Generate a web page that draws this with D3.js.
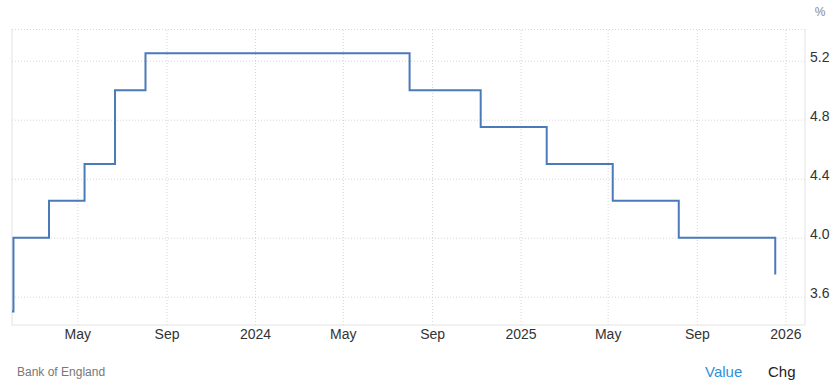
<!DOCTYPE html>
<html>
<head>
<meta charset="utf-8">
<script src="https://cdn.jsdelivr.net/npm/d3@7"></script>
<style>
  body { margin: 0; background: #fff; font-family: "Liberation Sans", Arial, sans-serif; }
  .grid line { stroke: #d6d6d6; stroke-dasharray: 1,2; }
  .grid path { display: none; }
</style>
</head>
<body>
<svg id="chart" width="836" height="386"></svg>
<script>
// Bank Rate change dates and levels (%)
const dates = ["2023-01-31", "2023-02-02", "2023-03-23", "2023-05-11", "2023-06-22", "2023-08-03",
  "2024-08-01", "2024-11-07", "2025-02-06", "2025-05-08", "2025-08-07", "2025-12-18"];
const rates = [3.5, 4.0, 4.25, 4.5, 5.0, 5.25, 5.0, 4.75, 4.5, 4.25, 4.0, 3.75];
const xTicks = ["2023-05-01", "2023-09-01", "2024-01-01", "2024-05-01", "2024-09-01",
  "2025-01-01", "2025-05-01", "2025-09-01", "2026-01-01"];
const yTicks = [3.6, 4.0, 4.4, 4.8, 5.2];

const parse = d3.timeParse("%Y-%m-%d");
const data = dates.map((d, i) => ({ date: parse(d), value: rates[i] }));

const margin = { left: 12, right: 805, top: 29, bottom: 325 };

const svg = d3.select("#chart");

const x = d3.scaleTime()
  .domain([parse("2023-01-31"), parse("2026-01-28")])
  .range([margin.left, margin.right]);

const y = d3.scaleLinear()
  .domain([3.408, 5.415])
  .range([margin.bottom, margin.top]);

const tickDates = xTicks.map(parse);
const fmt = (d) => d.getMonth() === 0 ? d3.timeFormat("%Y")(d) : d3.timeFormat("%b")(d);

// vertical grid
svg.append("g")
  .attr("class", "grid")
  .attr("transform", `translate(0, ${margin.bottom})`)
  .call(d3.axisBottom(x).tickValues(tickDates).tickSize(-(margin.bottom - margin.top)).tickFormat(""));

// horizontal grid (incl. top edge)
svg.append("g")
  .attr("class", "grid")
  .attr("transform", `translate(${margin.left}, 0)`)
  .call(d3.axisRight(y).tickValues(yTicks.concat([5.415])).tickSize(margin.right - margin.left).tickFormat(""));

// frame
svg.append("line").attr("x1", margin.left).attr("x2", margin.left)
  .attr("y1", margin.top).attr("y2", margin.bottom).attr("stroke", "#e2e2e2");
svg.append("line").attr("x1", margin.right).attr("x2", margin.right)
  .attr("y1", margin.top).attr("y2", margin.bottom).attr("stroke", "#e2e2e2");
svg.append("line").attr("x1", margin.left).attr("x2", margin.right)
  .attr("y1", margin.bottom).attr("y2", margin.bottom).attr("stroke", "#e2e2e2");

// x labels
const xAxis = svg.append("g")
  .attr("transform", `translate(0, ${margin.bottom})`)
  .call(d3.axisBottom(x).tickValues(tickDates).tickSize(0).tickPadding(4).tickFormat(fmt));
xAxis.select(".domain").remove();
xAxis.selectAll("text")
  .attr("fill", "#333")
  .attr("font-size", "14px")
  .attr("font-family", "Liberation Sans, Arial, sans-serif");

// y labels (sit just above their grid line)
const yAxis = svg.append("g")
  .attr("transform", `translate(${margin.right}, 0)`)
  .call(d3.axisRight(y).tickValues(yTicks).tickSize(0).tickPadding(5).tickFormat(d3.format(".1f")));
yAxis.select(".domain").remove();
yAxis.selectAll("text")
  .attr("dy", "0.05em")
  .attr("fill", "#333")
  .attr("font-size", "14px")
  .attr("font-family", "Liberation Sans, Arial, sans-serif");

svg.append("text")
  .attr("x", 820).attr("y", 16)
  .attr("text-anchor", "middle")
  .attr("fill", "#888")
  .attr("font-size", "12px")
  .text("%");

// step line
const line = d3.line()
  .curve(d3.curveStepAfter)
  .x((d) => x(d.date))
  .y((d) => y(d.value));

svg.append("path")
  .datum(data)
  .attr("d", line)
  .attr("fill", "none")
  .attr("stroke", "#4a7ab8")
  .attr("stroke-width", 2);

// footer
svg.append("text")
  .attr("x", 17).attr("y", 376)
  .attr("fill", "#777")
  .attr("font-size", "12px")
  .text("Bank of England");

svg.append("text")
  .attr("x", 705).attr("y", 377)
  .attr("fill", "#2f8fd8")
  .attr("font-size", "15px")
  .text("Value");

svg.append("text")
  .attr("x", 768).attr("y", 377)
  .attr("fill", "#222")
  .attr("font-size", "15px")
  .text("Chg");
</script>
</body>
</html>
